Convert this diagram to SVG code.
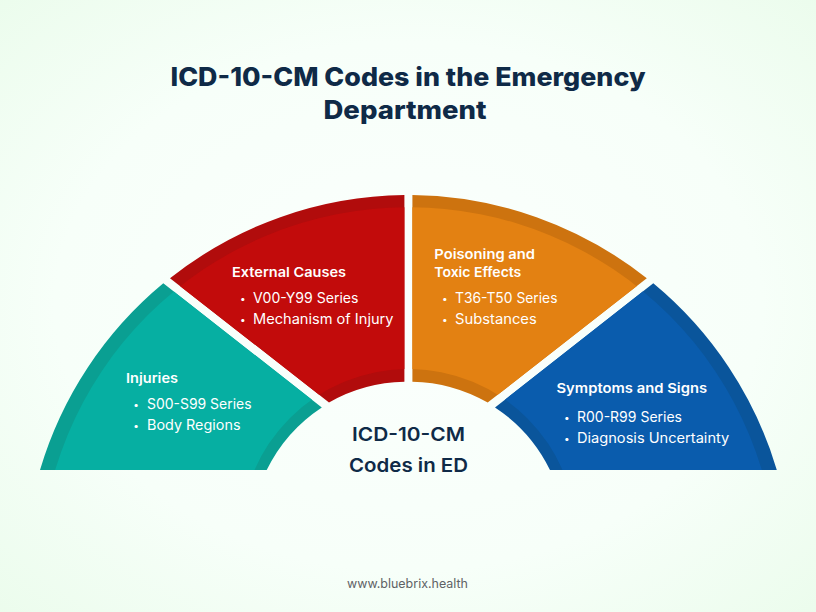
<svg xmlns="http://www.w3.org/2000/svg" width="816" height="612" viewBox="0 0 816 612">
<style>
text{font-family:"Inter","Liberation Sans",sans-serif}
.t{font-size:25.5px;font-weight:800;fill:#0f2a47}
.c{font-size:19px;font-weight:600;fill:#0f2a47}
.h{font-size:13.5px;font-weight:600;fill:#fff}
.i{font-size:14px;font-weight:400;fill:#fff}
.b{font-size:10px;font-weight:400;fill:#fff;text-anchor:middle}
.f{font-size:12.5px;font-weight:400;fill:#5f6265}
.core{fill-rule:evenodd}
</style>
<defs>
<radialGradient id="bg" cx="50%" cy="50%" r="72%">
<stop offset="0" stop-color="#fbfffd"/><stop offset="0.6" stop-color="#f7fff9"/><stop offset="1" stop-color="#ebfcec"/>
</radialGradient>
<path id="coreShape" d="M39.6 576.2a368.9 368.9 0 1 1 737.8 0a368.9 368.9 0 1 1-737.8 0zM240.6 536.9a167.9 167.9 0 1 0 335.8 0a167.9 167.9 0 1 0-335.8 0z"/>
<clipPath id="c1"><path d="M40 470A384.4 384.4 0 0 1 163.3 283.3L321.8 407.4A158 158 0 0 0 266.7 470Z"/></clipPath>
<clipPath id="c2"><path d="M170 278.3A384.4 384.4 0 0 1 404.4 195V381.7A158 158 0 0 0 329 402.4Z"/></clipPath>
<clipPath id="c3"><path d="M412.4 195A384.4 384.4 0 0 1 646.8 278.3L487.7 402.6A158 158 0 0 0 412.4 381.7Z"/></clipPath>
<clipPath id="c4"><path d="M653.3 283.3A384.4 384.4 0 0 1 776.8 470H550A158 158 0 0 0 495 407.4Z"/></clipPath>
</defs>
<rect width="816" height="612" fill="url(#bg)"/>
<g id="title">
<text class="t" x="408" y="86" text-anchor="middle" textLength="475" lengthAdjust="spacingAndGlyphs">ICD-10-CM Codes in the Emergency</text>
<text class="t" x="405" y="119" text-anchor="middle" textLength="163" lengthAdjust="spacingAndGlyphs">Department</text>
</g>
<g id="node-injuries">
<path fill="#0a9f92" d="M40 470A384.4 384.4 0 0 1 163.3 283.3L321.8 407.4A158 158 0 0 0 266.7 470Z"/>
<use href="#coreShape" class="core" fill="#06afa2" clip-path="url(#c1)"/>
<text class="h" x="126" y="383.3" textLength="52" lengthAdjust="spacingAndGlyphs">Injuries</text>
<text class="b" x="136" y="408.3">•</text><text class="i" x="147" y="409.3" textLength="104.5" lengthAdjust="spacingAndGlyphs">S00-S99 Series</text>
<text class="b" x="136" y="429">•</text><text class="i" x="147" y="430" textLength="93.5" lengthAdjust="spacingAndGlyphs">Body Regions</text>
</g>
<g id="node-external-causes">
<path fill="#b10c0c" d="M170 278.3A384.4 384.4 0 0 1 404.4 195V381.7A158 158 0 0 0 329 402.4Z"/>
<use href="#coreShape" class="core" fill="#c20b0b" clip-path="url(#c2)"/>
<text class="h" x="232" y="276.7" textLength="114" lengthAdjust="spacingAndGlyphs">External Causes</text>
<text class="b" x="242.7" y="302">•</text><text class="i" x="253" y="303" textLength="105.5" lengthAdjust="spacingAndGlyphs">V00-Y99 Series</text>
<text class="b" x="242.7" y="323">•</text><text class="i" x="253" y="324" textLength="140.5" lengthAdjust="spacingAndGlyphs">Mechanism of Injury</text>
</g>
<g id="node-poisoning">
<path fill="#cd730f" d="M412.4 195A384.4 384.4 0 0 1 646.8 278.3L487.7 402.6A158 158 0 0 0 412.4 381.7Z"/>
<use href="#coreShape" class="core" fill="#e38112" clip-path="url(#c3)"/>
<text class="h" x="434.3" y="259" textLength="100.7" lengthAdjust="spacingAndGlyphs">Poisoning and</text>
<text class="h" x="434.3" y="277" textLength="87" lengthAdjust="spacingAndGlyphs">Toxic Effects</text>
<text class="b" x="444.7" y="302.3">•</text><text class="i" x="455" y="303.3" textLength="102.5" lengthAdjust="spacingAndGlyphs">T36-T50 Series</text>
<text class="b" x="444.7" y="323">•</text><text class="i" x="455" y="324" textLength="81.7" lengthAdjust="spacingAndGlyphs">Substances</text>
</g>
<g id="node-symptoms">
<path fill="#0a559b" d="M653.3 283.3A384.4 384.4 0 0 1 776.8 470H550A158 158 0 0 0 495 407.4Z"/>
<use href="#coreShape" class="core" fill="#0a5cad" clip-path="url(#c4)"/>
<text class="h" x="556.5" y="393.3" textLength="150.6" lengthAdjust="spacingAndGlyphs">Symptoms and Signs</text>
<text class="b" x="566.7" y="420.7">•</text><text class="i" x="577" y="421.5" textLength="105" lengthAdjust="spacingAndGlyphs">R00-R99 Series</text>
<text class="b" x="566.7" y="441.7">•</text><text class="i" x="577" y="442.5" textLength="152.3" lengthAdjust="spacingAndGlyphs">Diagnosis Uncertainty</text>
</g>
<g id="node-center">
<text class="c" x="408.5" y="441" text-anchor="middle" textLength="113" lengthAdjust="spacingAndGlyphs">ICD-10-CM</text>
<text class="c" x="408.5" y="471.5" text-anchor="middle" textLength="119" lengthAdjust="spacingAndGlyphs">Codes in ED</text>
</g>
<g id="connectors"/>
<g id="footer"><text class="f" x="407.5" y="588" text-anchor="middle" textLength="121" lengthAdjust="spacingAndGlyphs">www.bluebrix.health</text></g>
</svg>
